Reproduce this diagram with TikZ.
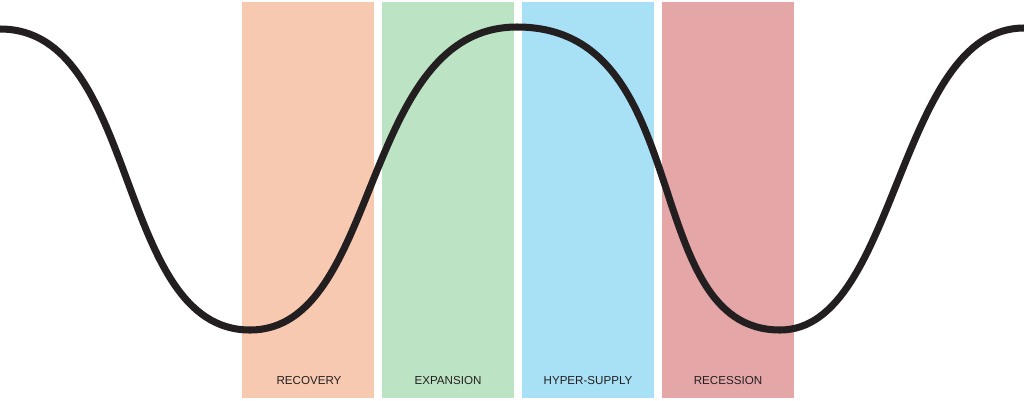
\documentclass[tikz,border=0pt]{standalone}
\usepackage{fontspec}
\setmainfont{Liberation Sans}
\usepackage{tikz}
\definecolor{recoverycol}{RGB}{248,201,177}
\definecolor{expansioncol}{RGB}{188,228,196}
\definecolor{supplycol}{RGB}{168,224,246}
\definecolor{recessioncol}{RGB}{228,166,167}
\definecolor{inkcol}{RGB}{35,31,32}
\tikzset{phaselabel/.style={text=inkcol, font=\fontsize{6.6}{8}\selectfont, inner sep=0pt}}

\begin{document}
\begin{tikzpicture}[x=0.02cm, y=-0.02cm]
			%%%%% START %%%%%
			\useasboundingbox (0, 0) rectangle (1024, 400);
			
			\fill[recoverycol] (242, 2) rectangle (374, 398);
			\fill[expansioncol] (382, 2) rectangle (514, 398);
			\fill[supplycol] (522, 2) rectangle (654, 398);
			\fill[recessioncol] (662, 2) rectangle (794, 398);
			
			\node[phaselabel] (recovery) at (309, 380) {RECOVERY};
			\node[phaselabel] (expansion) at (448, 380) {EXPANSION};
			\node[phaselabel] (hypersupply) at (588, 380) {HYPER-SUPPLY};
			\node[phaselabel] (recession) at (728, 380) {RECESSION};
			
			% cycle curve
			\draw[line width=4pt, color=inkcol] (0, 29)
				.. controls (141, 29) and (114, 330) .. (250, 330)
				.. controls (381.5, 330) and (359.5, 27) .. (517, 27)
				.. controls (698, 27) and (637, 330) .. (780, 330)
				.. controls (898, 330) and (897, 28) .. (1024, 28);
			
			%%%%% END %%%%%
		\end{tikzpicture}
\end{document}
